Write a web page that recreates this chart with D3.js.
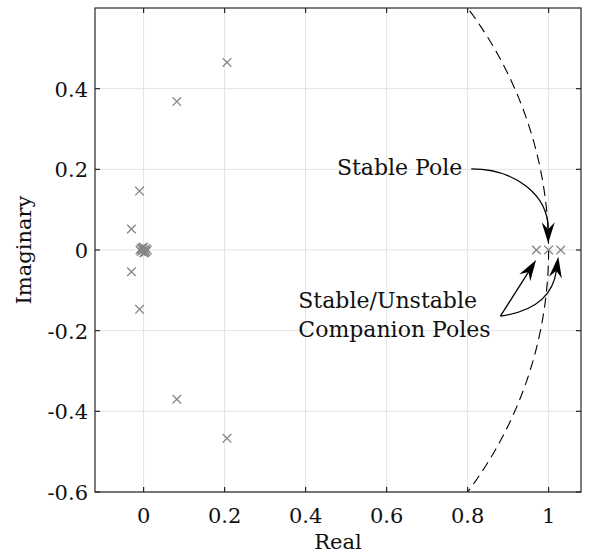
<!DOCTYPE html>
<html>
<head>
<meta charset="utf-8">
<script src="https://cdn.jsdelivr.net/npm/d3@7"></script>
<style>
  body { margin: 0; background: #fff; }
</style>
</head>
<body>
<svg width="590" height="559"></svg>
<script>
// pole locations (real / imaginary parts)
var poleRe = [0.206, 0.082, -0.01, -0.03, -0.03, -0.01, 0.082, 0.206,
  0, -0.006, 0.006, -0.006, 0.006, -0.009, 0.009, 0, 0, -0.004, 0.004, -0.003, 0.003,
  0.97, 1.0, 1.03];
var poleIm = [0.465, 0.368, 0.146, 0.052, -0.054, -0.147, -0.37, -0.467,
  0, 0.004, 0.004, -0.004, -0.004, 0, 0, 0.007, -0.007, 0.002, -0.002, 0.006, -0.006,
  0, 0, 0];

var xTicks = [0, 0.2, 0.4, 0.6, 0.8, 1];
var yTicks = [-0.6, -0.4, -0.2, 0, 0.2, 0.4];
var xDomain = [-0.12, 1.08];
var yDomain = [-0.6, 0.6];

// annotation anchors, in data units
var stableLabel = {text: "Stable Pole", x: 0.787, y: 0.185};
var stableArrow = [[0.809, 0.201], [0.918, 0.201], [0.999, 0.136], [0.999, 0.017]];
var companionLabel = ["Stable/Unstable", "Companion Poles"];
var companionLabelX = 0.382, companionLabelY = [-0.144, -0.216];
var companionArrowA = [[0.881, -0.164], [0.969, -0.025]];
var companionArrowB = [[0.881, -0.164], [1.006, -0.146], [1.024, -0.017]];

var serif = "'DejaVu Serif'";

var svg = d3.select("svg"),
  margin = {left: 95, right: 9, top: 8, bottom: 67},
  width = +svg.attr("width"),
  height = +svg.attr("height"),
  x = d3.scaleLinear().domain(xDomain).range([margin.left, width - margin.right]),
  y = d3.scaleLinear().domain(yDomain).range([height - margin.bottom, margin.top]);

svg.append("defs").append("clipPath").attr("id", "plotClip")
  .append("rect")
  .attr("x", x.range()[0]).attr("y", y.range()[1])
  .attr("width", x.range()[1] - x.range()[0])
  .attr("height", y.range()[0] - y.range()[1]);

// grid
svg.append("g").selectAll("line").data(xTicks).enter().append("line")
  .attr("x1", d => x(d)).attr("x2", d => x(d))
  .attr("y1", y.range()[0]).attr("y2", y.range()[1])
  .attr("stroke", "#e3e3e3").attr("stroke-width", 1);
svg.append("g").selectAll("line").data(yTicks).enter().append("line")
  .attr("y1", d => y(d)).attr("y2", d => y(d))
  .attr("x1", x.range()[0]).attr("x2", x.range()[1])
  .attr("stroke", "#e3e3e3").attr("stroke-width", 1);

// unit circle (dashed), clipped to axes
var circ = d3.range(-40, 40.5, 0.5).map(function(a) {
  var r = a * Math.PI / 180;
  return [Math.cos(r), Math.sin(r)];
});
svg.append("path")
  .attr("clip-path", "url(#plotClip)")
  .attr("d", d3.line().x(d => x(d[0])).y(d => y(d[1]))(circ))
  .attr("fill", "none").attr("stroke", "#000").attr("stroke-width", 1.1)
  .attr("stroke-dasharray", "10,6");

// poles as x markers
var s = 4.3;
svg.append("g").selectAll("path").data(poleRe).enter().append("path")
  .attr("d", function(d, i) {
    var cx = x(d), cy = y(poleIm[i]);
    return "M" + (cx - s) + "," + (cy - s) + "L" + (cx + s) + "," + (cy + s) +
      "M" + (cx - s) + "," + (cy + s) + "L" + (cx + s) + "," + (cy - s);
  })
  .attr("stroke", "#868686").attr("stroke-width", 1.3).attr("fill", "none");

// axes box with inward ticks on every side
var axisColor = "#262626";
svg.append("rect")
  .attr("x", x.range()[0]).attr("y", y.range()[1])
  .attr("width", x.range()[1] - x.range()[0])
  .attr("height", y.range()[0] - y.range()[1])
  .attr("fill", "none").attr("stroke", axisColor).attr("stroke-width", 1.2);

var tl = 5;
xTicks.forEach(function(t) {
  svg.append("line").attr("x1", x(t)).attr("x2", x(t))
    .attr("y1", y.range()[0]).attr("y2", y.range()[0] - tl)
    .attr("stroke", axisColor).attr("stroke-width", 1.2);
  svg.append("line").attr("x1", x(t)).attr("x2", x(t))
    .attr("y1", y.range()[1]).attr("y2", y.range()[1] + tl)
    .attr("stroke", axisColor).attr("stroke-width", 1.2);
  svg.append("text").attr("x", x(t)).attr("y", y.range()[0] + 31)
    .attr("text-anchor", "middle").attr("font-size", 21)
    .attr("font-family", serif).attr("fill", "#111")
    .text(d3.format("")(t));
});
yTicks.forEach(function(t) {
  svg.append("line").attr("y1", y(t)).attr("y2", y(t))
    .attr("x1", x.range()[0]).attr("x2", x.range()[0] + tl)
    .attr("stroke", axisColor).attr("stroke-width", 1.2);
  svg.append("line").attr("y1", y(t)).attr("y2", y(t))
    .attr("x1", x.range()[1]).attr("x2", x.range()[1] - tl)
    .attr("stroke", axisColor).attr("stroke-width", 1.2);
  svg.append("text").attr("x", x.range()[0] - 7).attr("y", y(t) + 8)
    .attr("text-anchor", "end").attr("font-size", 21)
    .attr("font-family", serif).attr("fill", "#111")
    .text(d3.format("")(t).replace("−", "-"));
});

// axis titles
svg.append("text").attr("x", (x.range()[0] + x.range()[1]) / 2).attr("y", 549)
  .attr("text-anchor", "middle").attr("font-size", 21)
  .attr("font-family", serif).attr("fill", "#111").text("Real");
svg.append("text")
  .attr("transform", "translate(31," + y(0) + ") rotate(-90)")
  .attr("text-anchor", "middle").attr("font-size", 21)
  .attr("font-family", serif).attr("fill", "#111").text("Imaginary");

// annotations
svg.append("text").attr("x", x(stableLabel.x)).attr("y", y(stableLabel.y))
  .attr("text-anchor", "end").attr("font-size", 22)
  .attr("font-family", serif).attr("fill", "#111").text(stableLabel.text);
companionLabel.forEach(function(t, i) {
  svg.append("text").attr("x", x(companionLabelX)).attr("y", y(companionLabelY[i]))
    .attr("font-size", 22).attr("font-family", serif).attr("fill", "#111").text(t);
});

function arrow(pts) {
  var p = pts.map(d => [x(d[0]), y(d[1])]);
  var n = p.length, tip = p[n - 1], prev = p[n - 2];
  var dx = tip[0] - prev[0], dy = tip[1] - prev[1], len = Math.sqrt(dx * dx + dy * dy);
  var ux = dx / len, uy = dy / len, hl = 21, hw = 6.5, notch = 14;
  // pull the shaft back so it ends inside the head
  var end = [tip[0] - ux * notch, tip[1] - uy * notch];
  var d;
  if (n == 2) d = "M" + p[0] + "L" + end;
  else if (n == 3) d = "M" + p[0] + "Q" + p[1] + " " + end;
  else d = "M" + p[0] + "C" + p[1] + " " + p[2] + " " + end;
  svg.append("path").attr("d", d).attr("fill", "none")
    .attr("stroke", "#000").attr("stroke-width", 1.3);
  var bx = tip[0] - ux * hl, by = tip[1] - uy * hl;
  var head = [tip,
    [bx - uy * hw, by + ux * hw],
    [tip[0] - ux * notch, tip[1] - uy * notch],
    [bx + uy * hw, by - ux * hw]];
  svg.append("path").attr("d", "M" + head.join("L") + "Z").attr("fill", "#000");
}
arrow(stableArrow);
arrow(companionArrowA);
arrow(companionArrowB);
</script>
</body>
</html>
